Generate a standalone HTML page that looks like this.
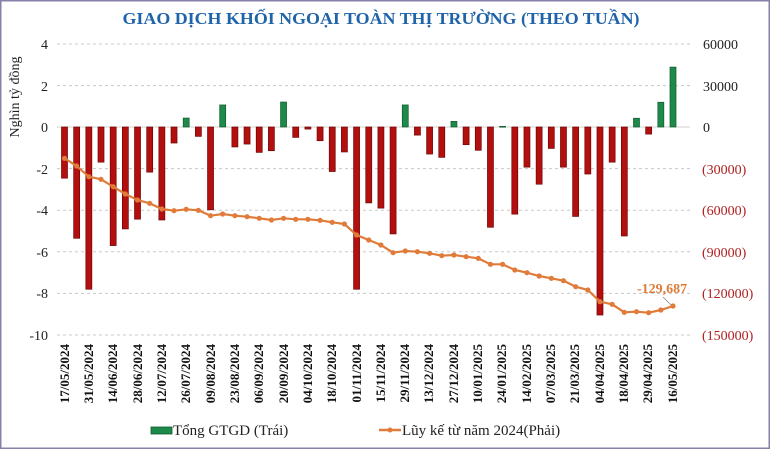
<!DOCTYPE html>
<html><head><meta charset="utf-8"><style>
html,body{margin:0;padding:0;background:#fff;}
svg{display:block;font-family:"Liberation Serif",serif;}
</style></head><body>
<svg id="s" width="770" height="449" viewBox="0 0 770 449" xmlns="http://www.w3.org/2000/svg">
<rect x="0.5" y="0.5" width="769" height="448" fill="#fff" stroke="#8a7fa8" stroke-width="2"/>
<text x="381" y="24" text-anchor="middle" font-size="17" font-weight="bold" fill="#1f63a8" textLength="517" lengthAdjust="spacingAndGlyphs">GIAO DỊCH KHỐI NGOẠI TOÀN THỊ TRƯỜNG (THEO TUẦN)</text>
<g stroke="#c8c8c8" stroke-width="1" stroke-dasharray="3,3">
<line x1="57" x2="690" y1="44" y2="44"/><line x1="57" x2="690" y1="85.6" y2="85.6"/>
<line x1="57" x2="690" y1="168.6" y2="168.6"/><line x1="57" x2="690" y1="210.2" y2="210.2"/>
<line x1="57" x2="690" y1="251.8" y2="251.8"/><line x1="57" x2="690" y1="293.4" y2="293.4"/>
<line x1="57" x2="690" y1="335" y2="335"/>
</g>
<line x1="57" x2="690" y1="127" y2="127" stroke="#d0d0d0"/>
<g font-size="14" text-anchor="end" fill="#222">
<text x="48" y="49">4</text><text x="48" y="91">2</text><text x="48" y="132">0</text>
<text x="48" y="174">-2</text><text x="48" y="215">-4</text><text x="48" y="257">-6</text>
<text x="48" y="298">-8</text><text x="48" y="340">-10</text>
</g>
<text transform="translate(19,97) rotate(-90)" text-anchor="middle" font-size="14" fill="#222">Nghìn tỷ đồng</text>
<g font-size="14" fill="#222">
<text x="703" y="49">60000</text><text x="703" y="91">30000</text><text x="703" y="132">0</text>
</g>
<g font-size="14" fill="#b01e1e">
<text x="702" y="174">(30000)</text><text x="702" y="215">(60000)</text><text x="702" y="257">(90000)</text>
<text x="702" y="298">(120000)</text><text x="702" y="340">(150000)</text>
</g>
<g id="bars"></g>
<g id="line"></g>
<text x="637" y="293" font-size="14" font-weight="bold" fill="#e07b39">-129,687</text>
<line x1="663" y1="297" x2="671" y2="305" stroke="#888" stroke-width="0.8"/>
<g font-size="13" font-weight="bold" fill="#111" text-anchor="end">
<text transform="translate(69,344) rotate(-90)">17/05/2024</text>
<text transform="translate(93,344) rotate(-90)">31/05/2024</text>
<text transform="translate(117,344) rotate(-90)">14/06/2024</text>
<text transform="translate(142,344) rotate(-90)">28/06/2024</text>
<text transform="translate(166,344) rotate(-90)">12/07/2024</text>
<text transform="translate(190,344) rotate(-90)">26/07/2024</text>
<text transform="translate(215,344) rotate(-90)">09/08/2024</text>
<text transform="translate(239,344) rotate(-90)">23/08/2024</text>
<text transform="translate(263,344) rotate(-90)">06/09/2024</text>
<text transform="translate(288,344) rotate(-90)">20/09/2024</text>
<text transform="translate(312,344) rotate(-90)">04/10/2024</text>
<text transform="translate(336,344) rotate(-90)">18/10/2024</text>
<text transform="translate(361,344) rotate(-90)">01/11/2024</text>
<text transform="translate(385,344) rotate(-90)">15/11/2024</text>
<text transform="translate(409,344) rotate(-90)">29/11/2024</text>
<text transform="translate(433,344) rotate(-90)">13/12/2024</text>
<text transform="translate(458,344) rotate(-90)">27/12/2024</text>
<text transform="translate(482,344) rotate(-90)">10/01/2025</text>
<text transform="translate(506,344) rotate(-90)">24/01/2025</text>
<text transform="translate(531,344) rotate(-90)">14/02/2025</text>
<text transform="translate(555,344) rotate(-90)">07/03/2025</text>
<text transform="translate(579,344) rotate(-90)">21/03/2025</text>
<text transform="translate(604,344) rotate(-90)">04/04/2025</text>
<text transform="translate(628,344) rotate(-90)">18/04/2025</text>
<text transform="translate(652,344) rotate(-90)">29/04/2025</text>
<text transform="translate(677,344) rotate(-90)">16/05/2025</text>
</g>
<rect x="151" y="427" width="21" height="7" fill="#1e8a4a" stroke="#0f5a2e" stroke-width="0.8"/>
<text x="173" y="435" font-size="15" fill="#222">Tổng GTGD (Trái)</text>
<line x1="379" x2="401" y1="430" y2="430" stroke="#e07b39" stroke-width="2.5"/>
<circle cx="390" cy="430" r="2.5" fill="#e07b39"/>
<text x="402" y="435" font-size="15" fill="#222">Lũy kế từ năm 2024(Phải)</text>
</svg>
<script>
(function(){
var v=[-2.46,-5.35,-7.8,-1.69,-5.7,-4.9,-4.43,-2.17,-4.47,-0.77,0.43,-0.45,-3.98,1.06,-0.96,-0.82,-1.22,-1.14,1.2,-0.5,-0.1,-0.66,-2.14,-1.2,-7.8,-3.65,-3.9,-5.14,1.06,-0.39,-1.3,-1.46,0.27,-0.85,-1.12,-4.82,0.03,-4.19,-1.93,-2.75,-1.03,-1.93,-4.3,-2.26,-9.04,-1.69,-5.24,0.42,-0.34,1.19,2.88];
var ly=[385,408,440,448,470,492,510,520,537,542,538,541,557,552,557,560,565,570,565,568,568,571,577,582,615,630,645,668,663,665,670,677,675,680,685,703,703,720,728,738,745,752,770,780,815,823,847,845,848,840,828];
var b=document.getElementById("bars"),l=document.getElementById("line"),h="",pts=[];
for(var i=0;i<v.length;i++){var x=64.5+12.17*i,y=127-v[i]*20.8;
var ty=Math.min(y,127),hh=Math.max(Math.abs(y-127),0.8);
var c=v[i]>=0?'fill="#1e8a4a" stroke="#0f5a2e"':'fill="#b40f0f" stroke="#6e0505"';
h+='<rect x="'+(x-3)+'" y="'+ty+'" width="6" height="'+hh+'" '+c+' stroke-width="0.7"/>';
pts.push(x+","+(30+ly[i]/3));}
b.innerHTML=h;
var g='<polyline points="'+pts.join(" ")+'" fill="none" stroke="#e07b39" stroke-width="2.2"/>';
pts.forEach(function(p){var a=p.split(",");g+='<circle cx="'+a[0]+'" cy="'+a[1]+'" r="2.6" fill="#e07b39"/>';});
l.innerHTML=g;
})();
</script>
</body></html>
